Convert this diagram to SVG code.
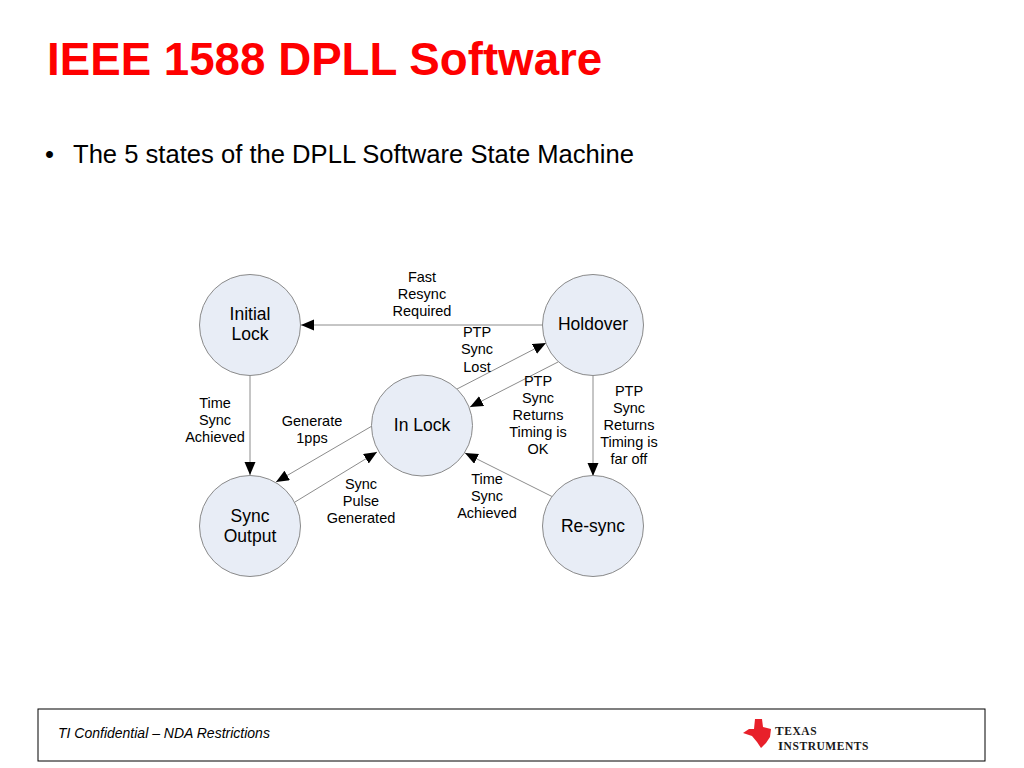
<svg xmlns="http://www.w3.org/2000/svg" width="1024" height="768" viewBox="0 0 1024 768">
<style>
text{font-family:"Liberation Sans",Arial,sans-serif;fill:#000}
.n circle{fill:#e8edf6;stroke:#8a8a8a;stroke-width:1}
.n text{font-size:17.5px;text-anchor:middle}
.l{font-size:14.5px;text-anchor:middle}
.c line{stroke:#8c8c8c;stroke-width:1;marker-end:url(#a)}
.t{font-family:"Liberation Serif",serif;font-weight:bold;fill:#1a1a1a;letter-spacing:.55px}
</style>
<defs><marker id="a" markerUnits="userSpaceOnUse" markerWidth="14" markerHeight="12" refX="13" refY="5.5" orient="auto"><path d="M0 0L13 5.5L0 11z" fill="#000"/></marker></defs>
<rect width="1024" height="768" fill="#fff"/>
<text x="47" y="75" font-size="45.7" font-weight="bold" style="fill:#fe0000">IEEE 1588 DPLL Software</text>
<text x="45" y="163" font-size="25.6">•</text>
<text x="73" y="163" font-size="25.6">The 5 states of the DPLL Software State Machine</text>
<g id="connectors" class="c">
<line x1="543" y1="325" x2="301" y2="325"/>
<line x1="457" y1="389" x2="546" y2="343"/>
<line x1="558" y1="362" x2="470" y2="407"/>
<line x1="372" y1="426" x2="276" y2="482"/>
<line x1="295" y1="502" x2="377" y2="452"/>
<line x1="553" y1="497" x2="465" y2="453"/>
<line x1="250" y1="376" x2="250" y2="475"/>
<line x1="593" y1="376" x2="593" y2="476"/>
</g>
<g id="initial-lock" class="n"><circle cx="250" cy="325" r="50.5"/><text x="250" y="320">Initial</text><text x="250" y="340">Lock</text></g>
<g id="holdover" class="n"><circle cx="593" cy="325" r="50.5"/><text x="593" y="330">Holdover</text></g>
<g id="in-lock" class="n"><circle cx="422" cy="425.5" r="50.5"/><text x="422" y="431">In Lock</text></g>
<g id="sync-output" class="n"><circle cx="250" cy="526" r="50.5"/><text x="250" y="522">Sync</text><text x="250" y="542">Output</text></g>
<g id="re-sync" class="n"><circle cx="593" cy="526" r="50.5"/><text x="593" y="532">Re-sync</text></g>
<g id="labels">
<text class="l" x="422" y="282">Fast</text><text class="l" x="422" y="299">Resync</text><text class="l" x="422" y="316">Required</text>
<text class="l" x="477" y="337">PTP</text><text class="l" x="477" y="354">Sync</text><text class="l" x="477" y="372">Lost</text>
<text class="l" x="538" y="386">PTP</text><text class="l" x="538" y="403">Sync</text><text class="l" x="538" y="420">Returns</text><text class="l" x="538" y="437">Timing is</text><text class="l" x="538" y="454">OK</text>
<text class="l" x="629" y="396">PTP</text><text class="l" x="629" y="413">Sync</text><text class="l" x="629" y="430">Returns</text><text class="l" x="629" y="447">Timing is</text><text class="l" x="629" y="464">far off</text>
<text class="l" x="215" y="408">Time</text><text class="l" x="215" y="425">Sync</text><text class="l" x="215" y="442">Achieved</text>
<text class="l" x="312" y="426">Generate</text><text class="l" x="312" y="443">1pps</text>
<text class="l" x="361" y="489">Sync</text><text class="l" x="361" y="506">Pulse</text><text class="l" x="361" y="523">Generated</text>
<text class="l" x="487" y="484">Time</text><text class="l" x="487" y="501">Sync</text><text class="l" x="487" y="518">Achieved</text>
</g>
<rect x="38" y="709" width="947" height="52" fill="#fff" stroke="#000" stroke-width="1"/>
<text x="58" y="738" font-size="14" font-style="italic">TI Confidential – NDA Restrictions</text>
<g id="logo">
<path d="M755 719L762 719L763 727L771 729L770 737L766 743L761 748L757 742L752 736L743 733L749 729L754 729z" fill="#e8202a"/>
<text class="t" x="775" y="735" font-size="11.5"><tspan font-size="13">T</tspan>EXAS</text>
<text class="t" x="778" y="750" font-size="11.5"><tspan font-size="13">I</tspan>NSTRUMENTS</text>
</g>
</svg>
